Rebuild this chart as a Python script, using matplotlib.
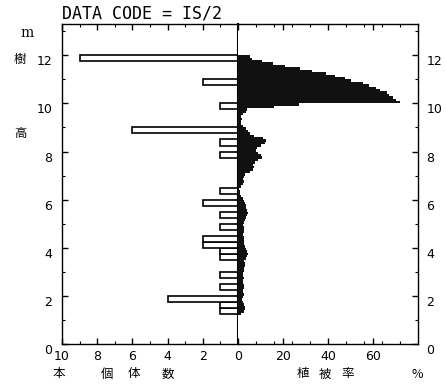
import numpy as np
import matplotlib
matplotlib.use("Agg")
import matplotlib.pyplot as plt
from matplotlib.transforms import ScaledTranslation

plt.rcParams["font.family"] = ["DejaVu Sans"]
JP = ["Noto Sans CJK JP", "DejaVu Sans"]

# left panel: number of trees per 0.25 m height class (lower edge, count)
tree_heights = [1.25, 1.5, 1.75, 2.25, 2.75, 3.5, 3.75, 4.0, 4.25, 4.75,
                5.25, 5.75, 6.25, 7.75, 8.25, 8.75, 9.75, 10.75, 11.75]
tree_counts = [1, 1, 4, 1, 1, 1, 1, 2, 2, 1,
               1, 2, 1, 1, 1, 6, 1, 2, 9]

# right panel: cover (%) per 0.1 m layer, starting at 1.2 m
cover_start = 1.2
cover_pct = [1.5, 2.5, 3.0, 3.3, 2.8, 2.0, 1.8, 2.2, 2.5, 2.0,   # 1.2 - 2.1
             2.3, 2.8, 2.5, 2.0, 2.2, 2.5, 2.0, 2.3, 2.6, 2.8,   # 2.2 - 3.1
             3.0, 3.2, 2.8, 3.5, 4.0, 4.5, 4.0, 3.5, 3.0, 2.8,   # 3.2 - 4.1
             2.5, 2.8, 2.5, 2.0, 2.5, 2.8, 2.5, 2.3, 2.8, 3.0,   # 4.2 - 5.1
             3.5, 4.0, 4.5, 4.0, 3.5, 3.5, 3.0, 2.5, 2.0, 1.5,   # 5.2 - 6.1
             1.0, 0.8, 0.5, 1.5, 2.0, 2.5, 2.0, 2.5, 3.0, 5.5,   # 6.2 - 7.1
             6.5, 7.0, 6.5, 7.5, 9.0, 10.5, 10.0, 9.0, 8.0, 8.5, # 7.2 - 8.1
             10.0, 12.0, 12.5, 11.0, 7.0, 5.5, 4.5, 3.5, 2.0, 1.5,  # 8.2 - 9.1
             1.5, 1.8, 1.5, 2.0, 3.5, 4.0, 16.0, 27.0, 72.0, 70.0,  # 9.2 - 10.1
             69.0, 67.0, 66.0, 63.0, 61.5, 58.0, 55.5, 50.0, 47.5, 43.0,  # 10.2 - 11.1
             39.0, 33.0, 27.5, 21.0, 15.7, 10.8, 6.0, 5.5]       # 11.2 - 11.9

W, H = 446, 386
fig = plt.figure(figsize=(W / 100, H / 100), dpi=100)
axl = fig.add_axes([62 / W, 42 / H, 176 / W, 320 / H])
axr = fig.add_axes([238 / W, 42 / H, 180 / W, 320 / H])

axl.barh(tree_heights, tree_counts, height=0.25, align="edge",
         color="white", edgecolor="black", linewidth=1.2)
cover_h = cover_start + 0.1 * np.arange(len(cover_pct))
axr.barh(cover_h, cover_pct, height=0.1, align="edge", color="#111111", linewidth=0)

axl.set_xlim(10, 0)
axr.set_xlim(0, 80)
for ax in (axl, axr):
    ax.set_ylim(0, 13.3)
    ax.set_yticks(range(0, 13, 2))
    ax.set_yticks(range(0, 14), minor=True)
    for s in ax.spines.values():
        s.set_linewidth(1.0)

axl.set_xticks(range(0, 11, 2))
axl.set_xticks(range(0, 11), minor=True)
axr.set_xticks([0, 20, 40, 60])
axr.set_xticklabels(["", "20", "40", "60"])
axr.set_xticks(np.arange(0, 81, 8), minor=True)

axl.tick_params(which="both", direction="in", top=True, bottom=True,
                left=True, right=False, labelsize=9, pad=4)
axl.tick_params(axis="y", pad=7)
axr.tick_params(which="both", direction="in", top=True, bottom=True,
                left=False, right=True, labelleft=False, labelright=True,
                labelsize=9, pad=4)
axr.tick_params(axis="y", pad=6)
for ax in (axl, axr):
    ax.tick_params(which="major", length=4, width=1)
    ax.tick_params(which="minor", length=2.5, width=0.8)

axl.spines["right"].set_linewidth(1.5)
axr.spines["left"].set_visible(False)

# the old plotter printed height labels a little below their ticks
shift = ScaledTranslation(0, -0.05, fig.dpi_scale_trans)
for ax in (axl, axr):
    for lab in ax.get_yticklabels():
        lab.set_transform(lab.get_transform() + shift)


def put(x, y, s, **kw):
    fig.text(x / W, 1 - y / H, s, ha="center", va="center", **kw)


fig.text(62 / W, 1 - 13 / H, "DATA CODE = IS/2", family="DejaVu Sans Mono",
         fontsize=12, va="center")
put(27, 33, "m", fontsize=10, family="DejaVu Serif")
put(20, 60, "樹", fontsize=9, family=JP)
put(20, 133, "高", fontsize=9, family=JP)
for x, s in [(59, "本"), (107, "個"), (134, "体"), (168, "数"),
             (303, "植"), (325, "被"), (348, "率"), (417, "%")]:
    put(x, 374, s, fontsize=9, family=JP)

fig.savefig("out.png", dpi=100)
